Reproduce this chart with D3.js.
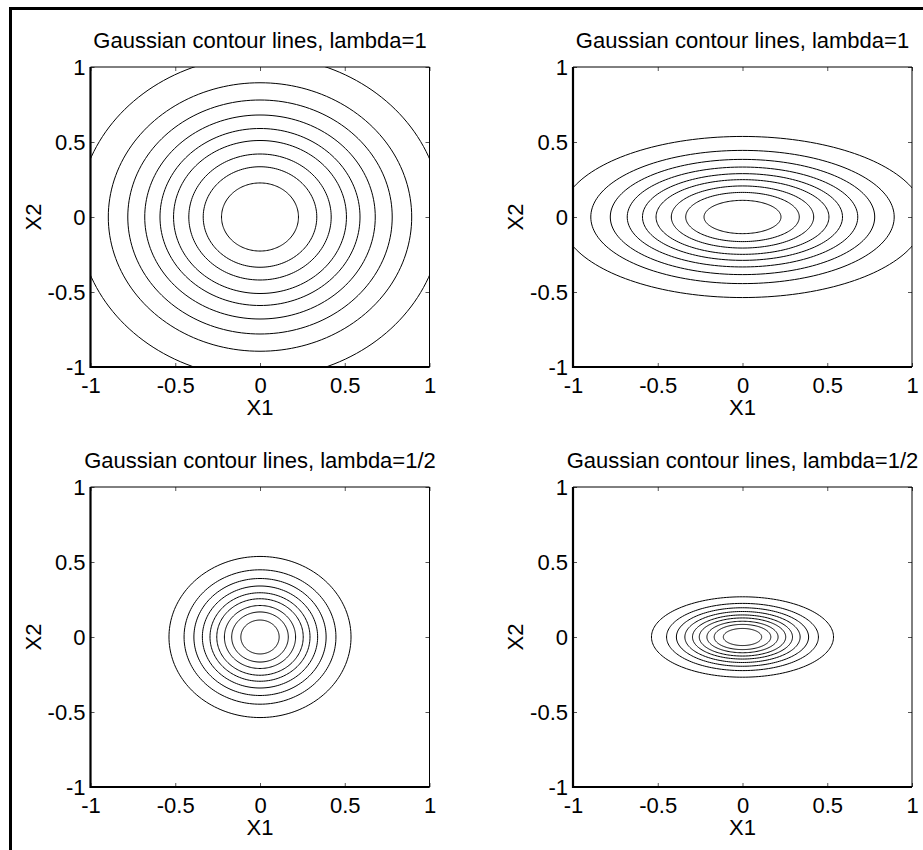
<!DOCTYPE html>
<html>
<head>
<meta charset="utf-8">
<script src="https://cdn.jsdelivr.net/npm/d3@7"></script>
<style>
  body { margin: 0; background: #fff; }
  text { font-family: "Liberation Sans", Arial, sans-serif; fill: #000; }
</style>
</head>
<body>
<div id="chart"></div>
<script>
// contour radii (data units), inner to outer
var titles = ["Gaussian contour lines, lambda=1", "Gaussian contour lines, lambda=1",
              "Gaussian contour lines, lambda=1/2", "Gaussian contour lines, lambda=1/2"];
var rxTopLeft  = [0.227, 0.335, 0.42, 0.51, 0.59, 0.68, 0.78, 0.895, 1.073];
var ryTopLeft  = [0.227, 0.335, 0.42, 0.51, 0.59, 0.68, 0.78, 0.895, 1.073];
var rxTopRight = [0.227, 0.335, 0.42, 0.51, 0.59, 0.68, 0.78, 0.895, 1.073];
var ryTopRight = [0.111, 0.164, 0.207, 0.249, 0.289, 0.333, 0.384, 0.444, 0.537];
var rxBotLeft  = [0.113, 0.167, 0.21, 0.255, 0.295, 0.34, 0.39, 0.448, 0.537];
var ryBotLeft  = [0.113, 0.167, 0.21, 0.255, 0.295, 0.34, 0.39, 0.448, 0.537];
var rxBotRight = [0.113, 0.167, 0.21, 0.255, 0.295, 0.34, 0.39, 0.448, 0.537];
var ryBotRight = [0.057, 0.084, 0.105, 0.127, 0.147, 0.17, 0.195, 0.224, 0.268];
var tickValues = [-1, -0.5, 0, 0.5, 1];
var tickLabels = ["-1", "-0.5", "0", "0.5", "1"];

var w = 923, h = 850;
var fontSize = 22;

var svg = d3.select("#chart")
  .append("svg")
  .attr("width", w)
  .attr("height", h);

svg.append("rect").attr("width", w).attr("height", h).attr("fill", "#fff");

// figure frame (only left and top show in the picture)
svg.append("path")
  .attr("d", "M10.5," + h + "V8.5H" + w)
  .attr("fill", "none")
  .attr("stroke", "#000")
  .attr("stroke-width", 3);

var panels = [
  {title: titles[0], rx: rxTopLeft,  ry: ryTopLeft,  left: 90.5,  top: 67},
  {title: titles[1], rx: rxTopRight, ry: ryTopRight, left: 573,   top: 67},
  {title: titles[2], rx: rxBotLeft,  ry: ryBotLeft,  left: 90.5,  top: 487},
  {title: titles[3], rx: rxBotRight, ry: ryBotRight, left: 573,   top: 487}
];
var pw = 339, ph = 300;

var angles = d3.range(0, 361, 2);

panels.forEach(function(p, pi) {
  var x = d3.scaleLinear().domain([-1, 1]).range([p.left, p.left + pw]);
  var y = d3.scaleLinear().domain([-1, 1]).range([p.top + ph, p.top]);

  var clipId = "clip" + pi;
  svg.append("clipPath").attr("id", clipId)
    .append("rect")
    .attr("x", p.left).attr("y", p.top)
    .attr("width", pw).attr("height", ph);

  var g = svg.append("g");

  var rings = p.rx.map(function(r, i) { return {rx: r, ry: p.ry[i]}; });

  g.append("g").attr("clip-path", "url(#" + clipId + ")")
    .selectAll("path")
    .data(rings)
    .join("path")
    .attr("d", function(d) {
      return d3.line()
        .x(function(a) { return x(d.rx * Math.cos(a * Math.PI / 180)); })
        .y(function(a) { return y(d.ry * Math.sin(a * Math.PI / 180)); })(angles);
    })
    .attr("fill", "none")
    .attr("stroke", "#000")
    .attr("stroke-width", 1);

  // axes: ticks inside on all four sides
  var tl = -4;
  g.append("g").attr("transform", "translate(0," + (p.top + ph) + ")")
    .call(d3.axisBottom(x).tickValues(tickValues).tickSize(tl).tickFormat(function(d, i) { return tickLabels[i]; }).tickPadding(10))
    .call(function(a) {
      a.select(".domain").remove();
      a.selectAll("line").attr("stroke", "#555");
      a.selectAll("text").attr("font-size", fontSize).attr("font-family", "Liberation Sans, Arial, sans-serif").attr("dy", "0.71em");
    });
  g.append("g").attr("transform", "translate(" + p.left + ",0)")
    .call(d3.axisLeft(y).tickValues(tickValues).tickSize(tl).tickFormat(function(d, i) { return tickLabels[i]; }).tickPadding(5))
    .call(function(a) {
      a.select(".domain").remove();
      a.selectAll("line").attr("stroke", "#555");
      a.selectAll("text").attr("font-size", fontSize).attr("font-family", "Liberation Sans, Arial, sans-serif");
    });
  g.append("g").attr("transform", "translate(0," + p.top + ")")
    .call(d3.axisTop(x).tickValues(tickValues).tickSize(tl).tickFormat(""))
    .call(function(a) { a.select(".domain").remove(); a.selectAll("line").attr("stroke", "#555"); });
  g.append("g").attr("transform", "translate(" + (p.left + pw) + ",0)")
    .call(d3.axisRight(y).tickValues(tickValues).tickSize(tl).tickFormat(""))
    .call(function(a) { a.select(".domain").remove(); a.selectAll("line").attr("stroke", "#555"); });

  // box: thicker left/bottom
  g.append("path")
    .attr("d", "M" + p.left + "," + p.top + "H" + (p.left + pw) + "V" + (p.top + ph))
    .attr("fill", "none").attr("stroke", "#000").attr("stroke-width", 1);
  g.append("path")
    .attr("d", "M" + p.left + "," + p.top + "V" + (p.top + ph) + "H" + (p.left + pw))
    .attr("fill", "none").attr("stroke", "#000").attr("stroke-width", 2.2);

  g.append("text")
    .attr("x", x(0)).attr("y", p.top - 19)
    .attr("text-anchor", "middle")
    .attr("font-size", fontSize)
    .text(p.title);

  g.append("text")
    .attr("x", x(0)).attr("y", p.top + ph + 48)
    .attr("text-anchor", "middle")
    .attr("font-size", fontSize)
    .text("X1");

  g.append("text")
    .attr("transform", "translate(" + (p.left - 50) + "," + y(0) + ") rotate(-90)")
    .attr("text-anchor", "middle")
    .attr("font-size", fontSize)
    .text("X2");
});
</script>
</body>
</html>
